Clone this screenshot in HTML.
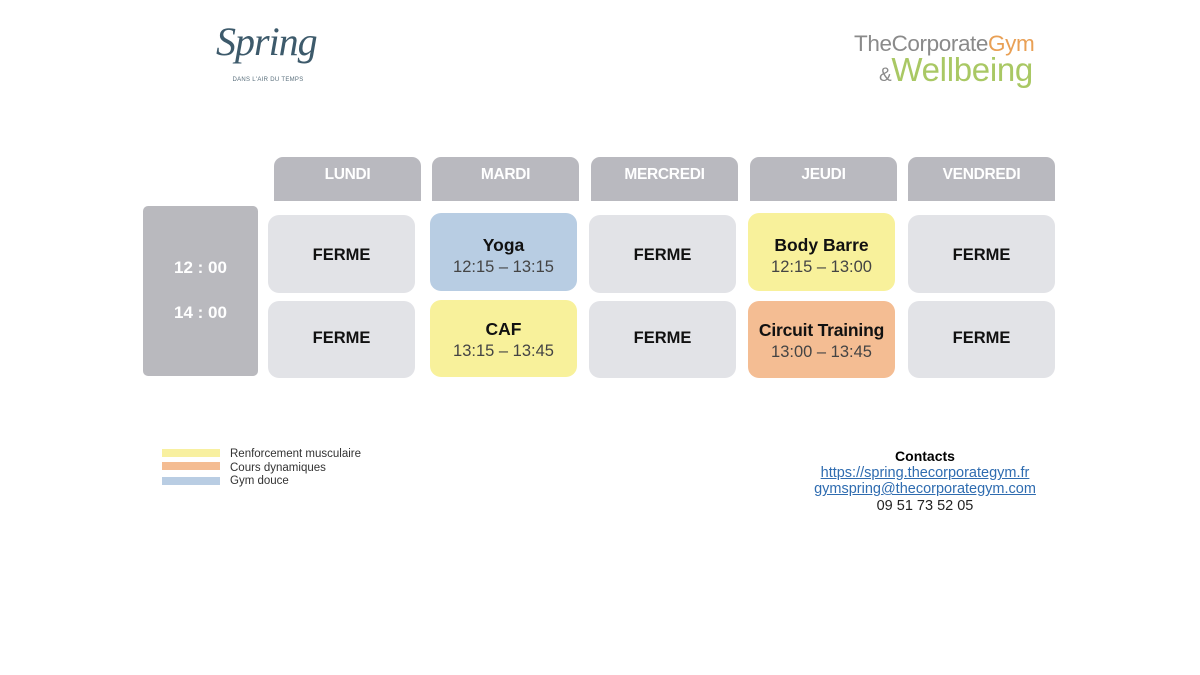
<!DOCTYPE html>
<html><head><meta charset="utf-8"><style>
*{margin:0;padding:0;box-sizing:border-box}
body{width:1200px;height:675px;background:#fff;position:relative;overflow:hidden;font-family:"Liberation Sans",sans-serif}
.a{position:absolute}
.hd{position:absolute;top:157px;height:44px;width:147px;background:#b9b9bf;border-radius:9px 9px 0 0;color:#fff;font-weight:bold;font-size:15.5px;text-align:center;line-height:36px;letter-spacing:-0.3px}
.c{position:absolute;width:147px;border-radius:11px;background:#e2e3e7;display:flex;flex-direction:column;align-items:center;justify-content:center;text-align:center;color:#111}
.f{font-weight:bold;font-size:16.5px}
.n{font-weight:bold;font-size:17.5px;line-height:22px}
.t{font-size:16.5px;color:#444;line-height:22px}
.r1{top:215px;height:78px}
.r2{top:301px;height:77px}
.lg{position:absolute;left:162px;width:58px;height:8px}
.lt{position:absolute;left:230px;font-size:11.5px;color:#333}
.ct{position:absolute;left:775px;width:300px;text-align:center;font-size:14.5px}
.ln{color:#2f6cb0;text-decoration:underline}
</style></head><body>
<div class="a" style="left:216px;top:18px;width:100px;text-align:center;font-family:'Liberation Serif',serif;font-style:italic;font-size:40px;color:#3d5a6b;letter-spacing:-1px">Spring</div>
<div class="a" style="left:228px;top:77px;width:80px;text-align:center;font-size:6px;color:#5a6f7c;letter-spacing:0.3px">DANS L'AIR DU TEMPS</div>
<div class="a" style="left:854px;top:31px;font-size:22.5px;color:#8a8a8a;letter-spacing:-0.4px">TheCorporate<span style="color:#e9a055">Gym</span></div>
<div class="a" style="left:879px;top:51px;font-size:33px;color:#a9c864;letter-spacing:-0.3px"><span style="font-size:19px;color:#8a8a8a">&amp;</span>Wellbeing</div>

<div class="hd" style="left:274px">LUNDI</div>
<div class="hd" style="left:432px">MARDI</div>
<div class="hd" style="left:591px">MERCREDI</div>
<div class="hd" style="left:750px">JEUDI</div>
<div class="hd" style="left:908px">VENDREDI</div>

<div class="a" style="left:143px;top:206px;width:115px;height:170px;background:#b9b9be;border-radius:5px"></div>
<div class="a" style="left:143px;top:258px;width:115px;text-align:center;color:#fff;font-weight:bold;font-size:17px">12 : 00</div>
<div class="a" style="left:143px;top:303px;width:115px;text-align:center;color:#fff;font-weight:bold;font-size:17px">14 : 00</div>

<div class="c r1" style="left:268px;padding-top:2px"><span class="f">FERME</span></div>
<div class="c r2" style="left:268px;padding-bottom:3px"><span class="f">FERME</span></div>
<div class="c r1" style="left:430px;top:213px;background:#b8cde3;padding-top:8px"><span class="n">Yoga</span><span class="t">12:15 – 13:15</span></div>
<div class="c r2" style="left:430px;top:300px;background:#f8f19b;padding-top:2px"><span class="n">CAF</span><span class="t">13:15 – 13:45</span></div>
<div class="c r1" style="left:589px;padding-top:2px"><span class="f">FERME</span></div>
<div class="c r2" style="left:589px;padding-bottom:3px"><span class="f">FERME</span></div>
<div class="c r1" style="left:748px;top:213px;background:#f8f19b;padding-top:8px"><span class="n">Body Barre</span><span class="t">12:15 – 13:00</span></div>
<div class="c r2" style="left:748px;top:301px;background:#f4bd93;padding-top:2px"><span class="n" style="letter-spacing:-0.2px">Circuit Training</span><span class="t">13:00 – 13:45</span></div>
<div class="c r1" style="left:908px;padding-top:2px"><span class="f">FERME</span></div>
<div class="c r2" style="left:908px;padding-bottom:3px"><span class="f">FERME</span></div>

<div class="lg" style="top:449px;background:#f8f0a0"></div>
<div class="lg" style="top:462px;background:#f4bc92"></div>
<div class="lg" style="top:477px;background:#b9cde3"></div>
<div class="lt" style="top:448px">Renforcement musculaire</div>
<div class="lt" style="top:462px">Cours dynamiques</div>
<div class="lt" style="top:475px">Gym douce</div>

<div class="ct" style="top:448px;font-weight:bold;font-size:14px">Contacts</div>
<div class="ct ln" style="top:465px">https://spring.thecorporategym.fr</div>
<div class="ct ln" style="top:481px">gymspring@thecorporategym.com</div>
<div class="ct" style="top:498px;color:#222">09 51 73 52 05</div>
</body></html>
